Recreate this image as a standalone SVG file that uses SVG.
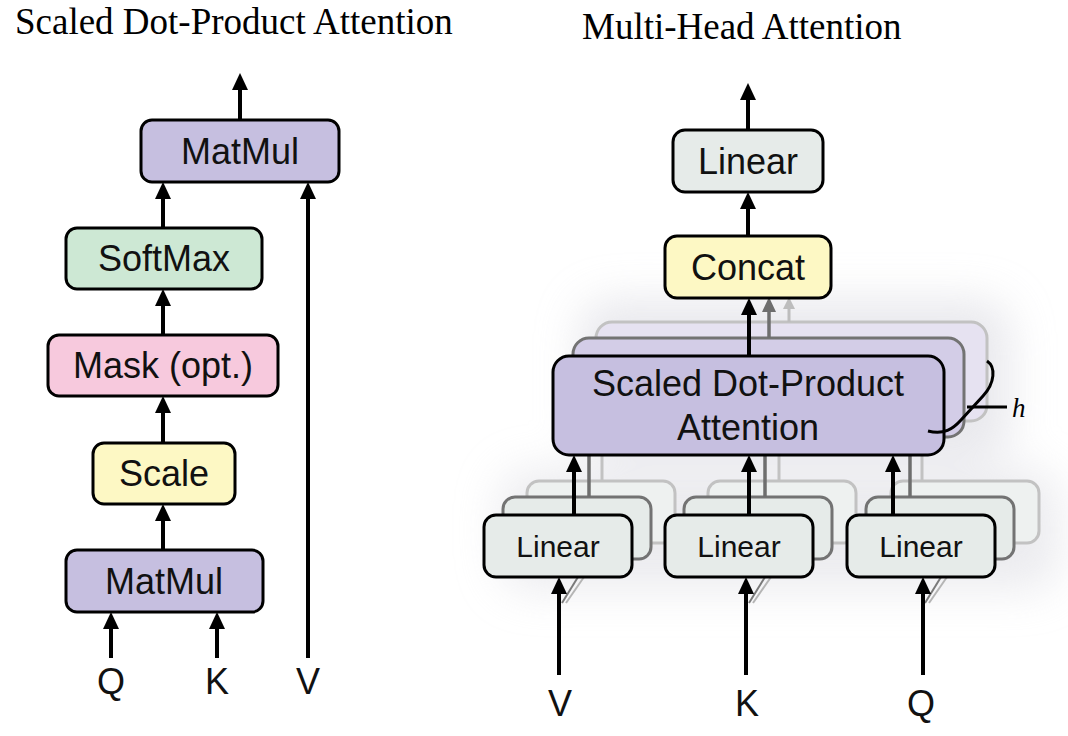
<svg xmlns="http://www.w3.org/2000/svg" width="1068" height="736" viewBox="0 0 1068 736">
<defs>
<style>
.box{stroke:#000;stroke-width:3}
.t{font-family:"Liberation Sans",Arial,sans-serif;font-size:36px;fill:#111;text-anchor:middle}
.ts{font-family:"Liberation Sans",Arial,sans-serif;font-size:30px;fill:#111;text-anchor:middle}
.title{font-family:"Liberation Serif","Times New Roman",serif;font-size:37px;fill:#000}
.arr{stroke:#000;stroke-width:4;fill:none;marker-end:url(#ah)}
.arrD{stroke:#6e6e6e;stroke-width:3.5;fill:none;marker-end:url(#ahD)}
.arrL{stroke:#bdbdbd;stroke-width:3;fill:none;marker-end:url(#ahL)}
.purple{fill:#c6bfe0}
.green{fill:#cde8d4}
.pink{fill:#f7c9dd}
.yellow{fill:#fdf8c4}
.gray{fill:#e6ebe9}
.midP{fill:#d3cde7;stroke:#737373;stroke-width:3}
.backP{fill:#e6e2f1;stroke:#c2c2c2;stroke-width:3}
.midL{fill:#e6ebe9;stroke:#737373;stroke-width:3}
.backL{fill:#eef1f0;stroke:#c2c2c2;stroke-width:3}
.lineD{stroke:#6e6e6e;stroke-width:3.5}
.lineL{stroke:#c2c2c2;stroke-width:3}
</style>
<marker id="ah" viewBox="0 0 17 16" markerWidth="17" markerHeight="16" refX="9" refY="8" orient="auto" markerUnits="userSpaceOnUse"><path d="M0,0 L17,8 L0,16 z" fill="#000"/></marker>
<marker id="ahD" viewBox="0 0 15 14" markerWidth="15" markerHeight="14" refX="7" refY="7" orient="auto" markerUnits="userSpaceOnUse"><path d="M0,0 L15,7 L0,14 z" fill="#6e6e6e"/></marker>
<marker id="ahL" viewBox="0 0 12 12" markerWidth="12" markerHeight="12" refX="5" refY="6" orient="auto" markerUnits="userSpaceOnUse"><path d="M0,0 L12,6 L0,12 z" fill="#bdbdbd"/></marker>
<filter id="blur" x="-30%" y="-30%" width="160%" height="160%"><feGaussianBlur stdDeviation="22"/></filter>
</defs>
<rect width="1068" height="736" fill="#fff"/>

<!-- soft shadow haze behind right stack -->
<g id="haze" filter="url(#blur)" opacity="0.55">
<rect x="580" y="300" width="430" height="160" rx="30" fill="#d6d6de"/>
<rect x="500" y="470" width="560" height="120" rx="30" fill="#dcdce2"/>
</g>

<text class="title" x="15" y="34">Scaled Dot-Product Attention</text>
<text class="title" x="582" y="39">Multi-Head Attention</text>

<!-- back copies of stacked heads -->
<g id="stack-back">
<rect class="backP" x="596" y="322" width="391" height="99" rx="16"/>
<rect class="backL" x="527" y="481" width="148" height="62" rx="12"/>
<rect class="backL" x="708" y="481" width="148" height="62" rx="12"/>
<rect class="backL" x="891" y="481" width="148" height="62" rx="12"/>
<line class="lineL" x1="602" y1="481" x2="602" y2="452"/>
<line class="lineL" x1="779" y1="481" x2="779" y2="452"/>
<line class="lineL" x1="922" y1="481" x2="922" y2="452"/>
<line class="arrL" x1="789" y1="322" x2="789" y2="304"/>
</g>

<!-- middle copies of stacked heads -->
<g id="stack-middle">
<rect class="midP" x="573" y="338" width="391" height="99" rx="16"/>
<rect class="midL" x="503" y="497" width="148" height="62" rx="12"/>
<rect class="midL" x="684" y="497" width="148" height="62" rx="12"/>
<rect class="midL" x="866" y="497" width="148" height="62" rx="12"/>
<line class="lineD" x1="589" y1="497" x2="589" y2="452"/>
<line class="lineD" x1="765" y1="497" x2="765" y2="452"/>
<line class="lineD" x1="910" y1="497" x2="910" y2="452"/>
<line class="arrD" x1="769" y1="338" x2="769" y2="305"/>
<line x1="562" y1="603" x2="578" y2="577" stroke="#7a7a7a" stroke-width="2"/>
<line x1="566" y1="603" x2="584" y2="577" stroke="#b5b5b5" stroke-width="2"/>
<line x1="749" y1="603" x2="765" y2="577" stroke="#7a7a7a" stroke-width="2"/>
<line x1="753" y1="603" x2="771" y2="577" stroke="#b5b5b5" stroke-width="2"/>
<line x1="925" y1="603" x2="941" y2="577" stroke="#7a7a7a" stroke-width="2"/>
<line x1="929" y1="603" x2="947" y2="577" stroke="#b5b5b5" stroke-width="2"/>
</g>

<!-- connectors -->
<g id="connectors">
<line class="arr" x1="240" y1="120" x2="240" y2="81"/>
<line class="arr" x1="163" y1="228" x2="163" y2="190"/>
<line class="arr" x1="163" y1="335" x2="163" y2="297"/>
<line class="arr" x1="163" y1="443" x2="163" y2="404"/>
<line class="arr" x1="163" y1="550" x2="163" y2="512"/>
<line class="arr" x1="111" y1="658" x2="111" y2="620"/>
<line class="arr" x1="217" y1="658" x2="217" y2="620"/>
<line class="arr" x1="308" y1="658" x2="308" y2="190"/>

<line class="arr" x1="748" y1="130" x2="748" y2="91"/>
<line class="arr" x1="748" y1="236" x2="748" y2="200"/>
<line class="arr" x1="749" y1="356" x2="749" y2="306"/>
<line class="arr" x1="574" y1="515" x2="574" y2="463"/>
<line class="arr" x1="749" y1="515" x2="749" y2="463"/>
<line class="arr" x1="893" y1="515" x2="893" y2="463"/>
<line class="arr" x1="559" y1="675" x2="559" y2="585"/>
<line class="arr" x1="746" y1="675" x2="746" y2="585"/>
<line class="arr" x1="923" y1="675" x2="923" y2="585"/>
</g>

<!-- left: scaled dot-product attention -->
<g id="matmul-top"><rect class="box purple" x="141" y="120" width="198" height="62" rx="11"/><text class="t" x="240" y="164">MatMul</text></g>
<g id="softmax"><rect class="box green" x="66" y="228" width="196" height="61" rx="11"/><text class="t" x="164" y="271">SoftMax</text></g>
<g id="mask"><rect class="box pink" x="48" y="335" width="230" height="61" rx="11"/><text class="t" x="163" y="378">Mask (opt.)</text></g>
<g id="scale"><rect class="box yellow" x="93" y="443" width="142" height="61" rx="11"/><text class="t" x="164" y="486">Scale</text></g>
<g id="matmul-bottom"><rect class="box purple" x="66" y="550" width="197" height="62" rx="11"/><text class="t" x="164" y="594">MatMul</text></g>
<g id="label-q-left"><text class="t" x="111" y="694">Q</text></g>
<g id="label-k-left"><text class="t" x="217" y="694">K</text></g>
<g id="label-v-left"><text class="t" x="308" y="694">V</text></g>

<!-- right: multi-head attention -->
<g id="linear-out"><rect class="box gray" x="673" y="130" width="150" height="62" rx="12"/><text class="t" x="748" y="174">Linear</text></g>
<g id="concat"><rect class="box yellow" x="665" y="236" width="166" height="62" rx="12"/><text class="t" x="748" y="280">Concat</text></g>
<g id="sdpa"><rect class="box purple" x="553" y="356" width="391" height="99" rx="16"/><text class="t" x="748" y="396">Scaled Dot-Product</text><text class="t" x="748" y="440">Attention</text></g>
<g id="linear-v"><rect class="box gray" x="484" y="515" width="148" height="62" rx="12"/><text class="ts" x="558" y="557">Linear</text></g>
<g id="linear-k"><rect class="box gray" x="665" y="515" width="148" height="62" rx="12"/><text class="ts" x="739" y="557">Linear</text></g>
<g id="linear-q"><rect class="box gray" x="847" y="515" width="148" height="62" rx="12"/><text class="ts" x="921" y="557">Linear</text></g>
<g id="brace-h">
<path d="M987,361 C996,367 995,383 983,396 L961,420 C953,429 944,435 928,431" fill="none" stroke="#000" stroke-width="3"/>
<line x1="967" y1="407" x2="1007" y2="407" stroke="#000" stroke-width="3"/>
<text x="1012" y="417" font-family="'Liberation Serif','Times New Roman',serif" font-style="italic" font-size="27">h</text>
</g>
<g id="label-v"><text class="t" x="560" y="716">V</text></g>
<g id="label-k"><text class="t" x="747" y="716">K</text></g>
<g id="label-q"><text class="t" x="921" y="716">Q</text></g>
</svg>
